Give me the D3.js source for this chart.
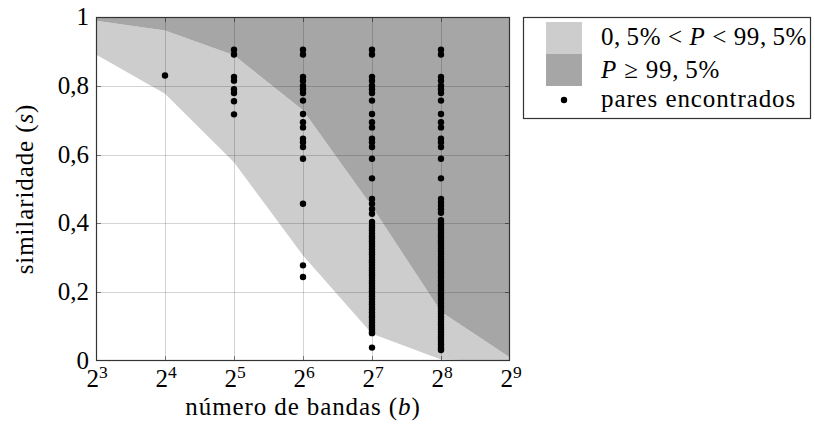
<!DOCTYPE html>
<html><head><meta charset="utf-8">
<script src="https://cdn.jsdelivr.net/npm/d3@7"></script>
<style>
html,body{margin:0;padding:0;background:#fff;}
svg{display:block;}
</style></head>
<body><svg id="c" width="815" height="434"></svg>
<script>
// ---- data ----
const bands = [8, 16, 32, 64, 128, 256, 512];
const lowerBound = [0.891, 0.777, 0.578, 0.307, 0.079, 0.004, 0.00001];   // P = 0,5%
const upperBound = [0.989, 0.961, 0.889, 0.729, 0.449, 0.143, 0.010];     // P = 99,5%
const xTickExp = [3, 4, 5, 6, 7, 8, 9];
const yTicks = [0, 0.2, 0.4, 0.6, 0.8, 1];
const yTickLabels = ["0", "0,2", "0,4", "0,6", "0,8", "1"];
const pares16 = [0.830];
const pares32 = [0.905, 0.891, 0.826, 0.815, 0.790, 0.779, 0.755, 0.717];
const paresTop = [0.905, 0.891, 0.826, 0.815, 0.800, 0.790, 0.779, 0.757, 0.718, 0.694, 0.679, 0.646, 0.636, 0.622, 0.588];
const pares64extra = [0.457, 0.278, 0.244];
const pares128extra = [0.531, 0.471, 0.457, 0.442, 0.428, 0.404,
  0.394, 0.387, 0.380, 0.371, 0.363, 0.356, 0.348, 0.340, 0.333, 0.325, 0.317, 0.310, 0.302,
  0.294, 0.287, 0.279, 0.271, 0.264, 0.256, 0.249, 0.241, 0.233, 0.226, 0.218, 0.211, 0.203,
  0.195, 0.188, 0.180, 0.172, 0.165, 0.157, 0.150, 0.142, 0.134, 0.127, 0.119, 0.112, 0.104,
  0.097, 0.090, 0.084, 0.081, 0.039];
const pares256extra = [0.531, 0.471, 0.461, 0.451, 0.441, 0.431, 0.409,
  0.401, 0.394, 0.386, 0.379, 0.371, 0.363, 0.356, 0.348, 0.341, 0.333, 0.326, 0.318, 0.311,
  0.303, 0.295, 0.288, 0.280, 0.273, 0.265, 0.258, 0.250, 0.243, 0.235, 0.227, 0.220, 0.212,
  0.205, 0.197, 0.190, 0.182, 0.175, 0.167, 0.159, 0.152, 0.144, 0.137, 0.129, 0.122, 0.114,
  0.107, 0.099, 0.092, 0.084, 0.077, 0.069, 0.062, 0.055, 0.048, 0.041, 0.035, 0.032];

const points = [];
pares16.forEach(s => points.push({b: 16, s}));
pares32.forEach(s => points.push({b: 32, s}));
paresTop.concat(pares64extra).forEach(s => points.push({b: 64, s}));
paresTop.concat(pares128extra).forEach(s => points.push({b: 128, s}));
paresTop.concat(pares256extra).forEach(s => points.push({b: 256, s}));

// ---- layout ----
const FONT = "Liberation Serif";
const svg = d3.select("#c");
const L = 96, R = 510, T = 17, B = 361;
const x = d3.scaleLog().base(2).domain([8, 512]).range([L, R]);
const y = d3.scaleLinear().domain([0, 1]).range([B, T]);
const FS = 25;
const txt = (sel) => sel.append("text").attr("font-family", FONT).attr("fill", "#000")
  .attr("font-size", FS).attr("letter-spacing", 0.9);

const rows = bands.map((b, i) => ({b, lo: lowerBound[i], hi: upperBound[i]}));

const g = svg.append("g");
g.append("path").datum(rows)
  .attr("fill", "#cdcdcd")
  .attr("d", d3.area().x(d => x(d.b)).y0(d => y(d.lo)).y1(d => y(d.hi)));
g.append("path").datum(rows)
  .attr("fill", "#a6a6a6")
  .attr("d", d3.area().x(d => x(d.b)).y0(d => y(d.hi)).y1(() => y(1)));

// grid
const grid = svg.append("g").attr("stroke", "#000").attr("stroke-opacity", 0.17).attr("stroke-width", 1);
xTickExp.slice(1, -1).forEach(e => {
  const xx = Math.round(x(Math.pow(2, e))) + 0.5;
  grid.append("line").attr("x1", xx).attr("x2", xx).attr("y1", T).attr("y2", B);
});
yTicks.slice(1, -1).forEach(t => {
  const yy = Math.round(y(t)) + 0.5;
  grid.append("line").attr("x1", L).attr("x2", R).attr("y1", yy).attr("y2", yy);
});

// ticks (inside, mirrored)
const tk = svg.append("g").attr("stroke", "#000").attr("stroke-opacity", 0.45).attr("stroke-width", 1);
xTickExp.slice(1, -1).forEach(e => {
  const xx = Math.round(x(Math.pow(2, e))) + 0.5;
  tk.append("line").attr("x1", xx).attr("x2", xx).attr("y1", B).attr("y2", B - 5);
  tk.append("line").attr("x1", xx).attr("x2", xx).attr("y1", T).attr("y2", T + 5);
});
yTicks.slice(1, -1).forEach(t => {
  const yy = Math.round(y(t)) + 0.5;
  tk.append("line").attr("x1", L).attr("x2", L + 5).attr("y1", yy).attr("y2", yy);
  tk.append("line").attr("x1", R).attr("x2", R - 5).attr("y1", yy).attr("y2", yy);
});

// points
svg.append("g").selectAll("circle").data(points).join("circle")
  .attr("cx", d => x(d.b)).attr("cy", d => y(d.s)).attr("r", 3.2).attr("fill", "#000");

// frame
svg.append("rect").attr("x", L + 0.5).attr("y", T + 0.5).attr("width", R - L - 1).attr("height", B - T - 1)
  .attr("fill", "none").attr("stroke", "#333").attr("stroke-width", 1.2);

// y tick labels
yTicks.forEach((t, i) => {
  txt(svg).attr("x", 89).attr("y", y(t)).attr("dy", "0.32em").attr("letter-spacing", 0)
    .attr("text-anchor", "end").text(yTickLabels[i]);
});
// x tick labels
xTickExp.forEach(e => {
  const t = txt(svg).attr("x", x(Math.pow(2, e)) + 1).attr("y", 387).attr("text-anchor", "middle").attr("letter-spacing", 0);
  t.append("tspan").text("2");
  t.append("tspan").attr("font-size", FS * 0.7).attr("dy", -9).text(String(e));
});

// axis labels
const xl = txt(svg).attr("x", (L + R) / 2).attr("y", 415).attr("text-anchor", "middle");
xl.append("tspan").text("número de bandas (");
xl.append("tspan").attr("font-style", "italic").text("b");
xl.append("tspan").text(")");
const yl = txt(svg).attr("transform", `translate(33,${(T + B) / 2}) rotate(-90)`).attr("text-anchor", "middle");
yl.append("tspan").text("similaridade (");
yl.append("tspan").attr("font-style", "italic").text("s");
yl.append("tspan").text(")");

// legend
const lg = svg.append("g");
lg.append("rect").attr("x", 523.5).attr("y", 17.5).attr("width", 287).attr("height", 101)
  .attr("fill", "#fff").attr("stroke", "#333").attr("stroke-width", 1.2);
lg.append("rect").attr("x", 546).attr("y", 22).attr("width", 36).attr("height", 32).attr("fill", "#cdcdcd");
lg.append("rect").attr("x", 546).attr("y", 54).attr("width", 36).attr("height", 32).attr("fill", "#a6a6a6");
lg.append("circle").attr("cx", 564).attr("cy", 100).attr("r", 3.2).attr("fill", "#000");
const t1 = txt(lg).attr("x", 601).attr("y", 45).attr("letter-spacing", 0.6);
t1.append("tspan").text("0,\u20095% < ");
t1.append("tspan").attr("font-style", "italic").text("P");
t1.append("tspan").text(" < 99,\u20095%");
const t2 = txt(lg).attr("x", 601).attr("y", 78).attr("letter-spacing", 0.8);
t2.append("tspan").attr("font-style", "italic").text("P");
t2.append("tspan").text(" ≥ 99,\u20095%");
txt(lg).attr("x", 601).attr("y", 107).text("pares encontrados");
</script></body></html>
